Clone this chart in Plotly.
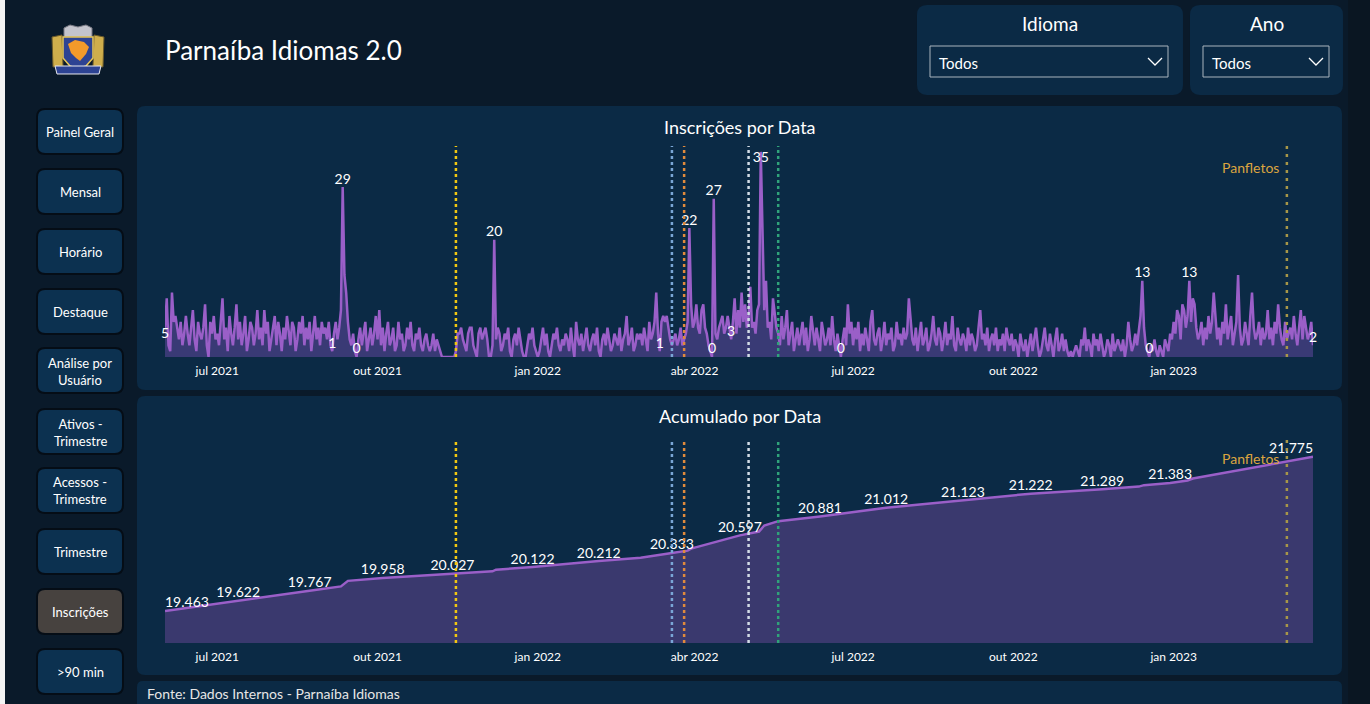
import plotly.graph_objects as go
import pandas as pd

W, H = 1370, 704

# ---------------- data ----------------
start_date = "2021-06-01"
jun21 = [5, 10, 2, 1, 11, 6, 7, 5, 3, 6, 2, 4, 7, 4, 2, 5, 8, 3, 1, 6, 4, 3, 5, 9, 2, 0, 6, 4, 7, 3]
jul21 = [4, 2, 6, 10, 3, 5, 1, 7, 4, 2, 5, 9, 3, 6, 2, 4, 7, 1, 3, 6, 5, 2, 4, 8, 3, 5, 2, 8, 4, 6, 1]
aug21 = [3, 5, 7, 2, 6, 4, 1, 5, 3, 7, 4, 2, 6, 5, 1, 3, 6, 4, 7, 2, 5, 3, 6, 1, 4, 7, 3, 5, 2, 6, 4]
sep21 = [5, 3, 6, 2, 1, 4, 6, 3, 5, 8, 29, 14, 11, 6, 3, 2, 4, 1, 0, 3, 5, 2, 4, 6, 1, 3, 5, 2, 4, 7]
oct21 = [3, 8, 2, 5, 1, 4, 6, 2, 3, 5, 1, 2, 6, 3, 4, 1, 2, 5, 3, 6, 2, 1, 4, 3, 5, 2, 1, 3, 4, 2, 1]
nov21 = [2, 4, 1, 3, 2, 1, 0, 0, 0, 0, 0, 0, 0, 0, 1, 4, 4, 5, 3, 2, 1, 4, 5, 5, 2, 1, 0, 4, 5, 3]
dec21 = [4, 5, 3, 0, 0, 2, 20, 3, 5, 4, 1, 2, 4, 3, 5, 1, 0, 3, 4, 2, 5, 3, 1, 0, 0, 2, 4, 3, 5, 2, 1]
jan22 = [0, 1, 3, 5, 2, 4, 1, 0, 2, 4, 3, 5, 2, 1, 3, 2, 4, 3, 1, 5, 2, 0, 6, 3, 2, 4, 1, 3, 5, 2, 1]
feb22 = [3, 4, 2, 5, 1, 0, 3, 4, 2, 5, 3, 1, 2, 4, 3, 2, 5, 1, 3, 4, 7, 2, 3, 5, 1, 2, 4, 3]
mar22 = [4, 2, 5, 3, 1, 6, 3, 4, 6, 11, 4, 1, 6, 7, 6, 7, 5, 3, 2, 3, 4, 2, 3, 5, 2, 3, 4, 6, 22, 9, 5]
apr22 = [6, 9, 5, 4, 8, 9, 5, 4, 2, 1, 0, 27, 4, 3, 5, 6, 7, 4, 5, 7, 5, 3, 6, 10, 4, 8, 5, 11, 6, 9]
may22 = [5, 7, 12, 5, 6, 4, 8, 9, 35, 22, 8, 13, 5, 6, 3, 10, 7, 5, 4, 2, 7, 3, 5, 8, 2, 4, 6, 1, 3, 5, 2]
jun22 = [4, 6, 2, 5, 1, 3, 7, 4, 2, 5, 3, 1, 6, 4, 2, 3, 5, 2, 7, 3, 1, 4, 2, 0, 3, 5, 2, 9, 4, 6]
jul22 = [2, 5, 3, 6, 1, 4, 2, 5, 3, 1, 6, 8, 3, 2, 4, 5, 1, 3, 6, 2, 4, 3, 5, 1, 2, 6, 3, 4, 2, 5, 3]
aug22 = [4, 10, 7, 3, 2, 5, 1, 4, 6, 2, 3, 5, 1, 2, 4, 7, 3, 2, 5, 4, 1, 3, 6, 2, 4, 3, 7, 2, 1, 5, 3]
sep22 = [2, 4, 3, 1, 5, 2, 4, 3, 1, 2, 5, 8, 3, 4, 2, 5, 1, 3, 4, 2, 5, 1, 3, 2, 4, 1, 5, 3, 2, 4]
oct22 = [1, 3, 2, 0, 4, 2, 1, 3, 0, 2, 4, 1, 3, 5, 2, 0, 1, 3, 5, 2, 1, 4, 2, 0, 3, 5, 1, 2, 4, 1, 3]
nov22 = [1, 0, 1, 0, 1, 2, 1, 0, 3, 2, 5, 1, 3, 2, 0, 4, 2, 3, 1, 4, 2, 0, 1, 3, 2, 0, 4, 1, 2, 3]
dec22 = [2, 1, 3, 0, 2, 6, 3, 1, 2, 4, 2, 5, 7, 13, 5, 2, 1, 0, 2, 1, 3, 1, 0, 2, 1, 0, 3, 2, 1, 4, 3]
jan23 = [6, 4, 8, 7, 3, 9, 8, 5, 7, 13, 6, 10, 9, 5, 3, 4, 6, 2, 5, 3, 7, 4, 6, 11, 7, 3, 5, 2, 6, 4, 9]
feb23 = [3, 5, 7, 2, 4, 6, 14, 5, 2, 3, 6, 4, 2, 7, 11, 5, 3, 4, 6, 2, 5, 3, 4, 8, 3, 5, 2, 6]
mar23 = [4, 9, 5, 3, 2, 6, 3, 4, 5, 3, 7, 4, 2, 5, 8, 3, 7, 5, 3, 4, 6, 2]

daily_counts = (jun21 + jul21 + aug21 + sep21 + oct21 + nov21 + dec21 + jan22 + feb22 + mar22
                + apr22 + may22 + jun22 + jul22 + aug22 + sep22 + oct22 + nov22 + dec22
                + jan23 + feb23 + mar23)
daily_dates = pd.date_range(start_date, periods=len(daily_counts), freq="D")

daily_label_dates = ["2021-06-01", "2021-09-05", "2021-09-11", "2021-09-19", "2021-12-07",
                     "2022-03-12", "2022-03-29", "2022-04-11", "2022-04-12", "2022-04-22",
                     "2022-05-09", "2022-06-24", "2022-12-14", "2022-12-18", "2023-01-10",
                     "2023-03-22"]
daily_label_pos = ["bottom center", "top center", "top center", "top center", "top center",
                   "top center", "top center", "top center", "top center", "top center",
                   "bottom center", "top center", "top center", "top center", "top center",
                   "top center"]

cum_dates = ["2021-06-01", "2021-07-13", "2021-08-23", "2021-09-10", "2021-09-14",
             "2021-10-04", "2021-11-13", "2021-12-06", "2021-12-08", "2021-12-29",
             "2022-02-05", "2022-03-01", "2022-03-19", "2022-03-28", "2022-03-30",
             "2022-04-27", "2022-05-08", "2022-05-11", "2022-05-19", "2022-06-12",
             "2022-07-20", "2022-09-02", "2022-10-11", "2022-11-21", "2022-12-12",
             "2022-12-15", "2022-12-30", "2023-01-09", "2023-01-12", "2023-03-22"]
cum_values = [19463, 19622, 19767, 19832, 19915,
              19958, 20027, 20058, 20082, 20122,
              20212, 20262, 20333, 20368, 20398,
              20597, 20655, 20745, 20810, 20881,
              21012, 21123, 21222, 21289, 21328,
              21350, 21383, 21420, 21450, 21775]
cum_label_dates = ["2021-06-01", "2021-07-13", "2021-08-23", "2021-10-04", "2021-11-13",
                   "2021-12-29", "2022-02-05", "2022-03-19", "2022-04-27", "2022-06-12",
                   "2022-07-20", "2022-09-02", "2022-10-11", "2022-11-21", "2022-12-30",
                   "2023-03-22"]

event_dates = ["2021-11-15", "2022-03-19", "2022-03-26", "2022-05-02", "2022-05-19"]
event_colors = ["#f2c811", "#7aa6d6", "#e08a3c", "#d3dce6", "#2fa37a"]
panfleto_date = "2023-03-07"
panfleto_label = "Panfletos"

tick_dates = ["2021-07-01", "2021-10-01", "2022-01-01", "2022-04-01",
              "2022-07-01", "2022-10-01", "2023-01-01"]
tick_text = ["jul 2021", "out 2021", "jan 2022", "abr 2022",
             "jul 2022", "out 2022", "jan 2023"]

menu_items = ["Painel Geral", "Mensal", "Horário", "Destaque", "Análise por<br>Usuário",
              "Ativos -<br>Trimestre", "Acessos -<br>Trimestre", "Trimestre", "Inscrições",
              ">90 min"]
selected_item = "Inscrições"

# ---------------- helpers ----------------
FONT = "Lato"
BG = "#0a1a2a"
PANEL = "#0b2a45"
LINE = "#9a5fc8"


def PX(x):
    return x / W


def PY(y):
    return 1 - y / H


def rr_path(x0, y0, x1, y1, r):
    pts = [("M", x0 + r, y0), ("L", x1 - r, y0), ("Q", x1, y0, x1, y0 + r),
           ("L", x1, y1 - r), ("Q", x1, y1, x1 - r, y1), ("L", x0 + r, y1),
           ("Q", x0, y1, x0, y1 - r), ("L", x0, y0 + r), ("Q", x0, y0, x0 + r, y0)]
    s = ""
    for p in pts:
        cmd = p[0]
        coords = p[1:]
        parts = []
        for i in range(0, len(coords), 2):
            parts.append(f"{PX(coords[i]):.5f},{PY(coords[i+1]):.5f}")
        s += cmd + " " + " ".join(parts) + " "
    return s + "Z"


def poly_path(points):
    s = "M " + " L ".join(f"{PX(x):.5f},{PY(y):.5f}" for x, y in points) + " Z"
    return s


shapes = []
annotations = []


def panel(x0, y0, x1, y1, r, fill, line_color=None, lw=0, layer="below"):
    shapes.append(dict(type="path", path=rr_path(x0, y0, x1, y1, r), xref="paper", yref="paper",
                       fillcolor=fill, line=dict(color=line_color or fill, width=lw), layer=layer))


def text(x, y, s, size=13, color="white", xanchor="center", weight="normal"):
    annotations.append(dict(x=PX(x), y=PY(y), xref="paper", yref="paper", text=s,
                            showarrow=False, xanchor=xanchor, yanchor="middle",
                            font=dict(family=FONT, size=size, color=color, weight=weight)))


# ---------------- page frame ----------------
shapes.append(dict(type="rect", x0=0, x1=PX(5), y0=0, y1=1, xref="paper", yref="paper",
                   fillcolor="#f4f4f4", line=dict(width=0), layer="below"))
shapes.append(dict(type="rect", x0=PX(1348), x1=1, y0=0, y1=1, xref="paper", yref="paper",
                   fillcolor="#0a1622", line=dict(width=0), layer="below"))

# logo (simplified coat of arms)
shapes.append(dict(type="path", path=poly_path([(52, 37), (62, 35), (63, 66), (53, 67)]),
                   xref="paper", yref="paper", fillcolor="#cfae4c", line=dict(color="#6b5a2a", width=1), layer="below"))
shapes.append(dict(type="path", path=poly_path([(94, 35), (104, 37), (103, 67), (93, 66)]),
                   xref="paper", yref="paper", fillcolor="#cfae4c", line=dict(color="#6b5a2a", width=1), layer="below"))
shapes.append(dict(type="path", path=poly_path([(64, 28), (70, 25), (78, 27), (86, 25), (92, 28), (92, 37), (64, 37)]),
                   xref="paper", yref="paper", fillcolor="#c4c4cc", line=dict(color="#7c7c86", width=1), layer="below"))
shapes.append(dict(type="path", path=poly_path([(63, 37), (93, 37), (93, 58), (86, 66), (78, 69), (70, 66), (63, 58)]),
                   xref="paper", yref="paper", fillcolor="#2d4393", line=dict(color="#e6c65a", width=1.5), layer="below"))
shapes.append(dict(type="path", path=poly_path([(68, 44), (75, 40), (84, 42), (89, 47), (86, 54), (80, 61), (76, 58), (71, 53)]),
                   xref="paper", yref="paper", fillcolor="#f39a2a", line=dict(width=0), layer="below"))
shapes.append(dict(type="path", path=poly_path([(55, 66), (101, 66), (99, 74), (57, 74)]),
                   xref="paper", yref="paper", fillcolor="#2d4393", line=dict(color="#e9e9ef", width=1), layer="below"))

text(163, 50, "Parnaíba Idiomas 2.0", size=26, xanchor="left")

# filter panels
panel(917, 5, 1183, 95, 10, PANEL)
panel(1190, 5, 1343, 95, 10, PANEL)
text(1050, 23, "Idioma", size=19)
text(1267, 23, "Ano", size=19)
shapes.append(dict(type="rect", x0=PX(930), x1=PX(1168), y0=PY(77), y1=PY(46), xref="paper", yref="paper",
                   fillcolor=PANEL, line=dict(color="#aab4be", width=1), layer="below"))
shapes.append(dict(type="rect", x0=PX(1203), x1=PX(1329), y0=PY(77), y1=PY(46), xref="paper", yref="paper",
                   fillcolor=PANEL, line=dict(color="#aab4be", width=1), layer="below"))
text(937, 63, "Todos", size=15, xanchor="left")
text(1210, 63, "Todos", size=15, xanchor="left")
for cx in (1155, 1316):
    shapes.append(dict(type="path",
                       path=f"M {PX(cx-7):.5f},{PY(58):.5f} L {PX(cx):.5f},{PY(65):.5f} L {PX(cx+7):.5f},{PY(58):.5f}",
                       xref="paper", yref="paper", line=dict(color="white", width=1.3), layer="below"))

# sidebar menu
menu_centers = [132, 192, 252, 312, 371, 432, 491, 552, 612, 672]
for item, cy in zip(menu_items, menu_centers):
    fill = "#47423f" if item == selected_item else "#0c3150"
    panel(37, cy - 23, 123, cy + 22, 8, fill, "#050d16", 2)
    text(80, cy, item, size=13)

# chart panels
panel(137, 106, 1342, 390, 8, PANEL)
panel(137, 396, 1342, 675, 8, PANEL)
panel(137, 681, 1342, 712, 6, PANEL)
text(145, 693, "Fonte: Dados Internos - Parnaíba Idiomas", size=14, color="#e6e6e6", xanchor="left")

text(740, 127, "Inscrições por Data", size=18)
text(740, 416, "Acumulado por Data", size=18)

# ---------------- traces ----------------
fig = go.Figure()

fig.add_trace(go.Scatter(x=daily_dates, y=daily_counts, mode="lines", xaxis="x", yaxis="y",
                         line=dict(color=LINE, width=2.5), fill="tozeroy",
                         fillcolor="rgba(88,70,150,0.6)", hoverinfo="skip", showlegend=False))

daily_map = dict(zip(daily_dates.strftime("%Y-%m-%d"), daily_counts))
lab_y = [daily_map[d] for d in daily_label_dates]
fig.add_trace(go.Scatter(x=daily_label_dates, y=lab_y, mode="text", xaxis="x", yaxis="y",
                         text=[str(v) for v in lab_y], textposition=daily_label_pos,
                         textfont=dict(family=FONT, size=14, color="white"),
                         cliponaxis=False, hoverinfo="skip", showlegend=False))

fig.add_trace(go.Scatter(x=cum_dates, y=cum_values, mode="lines", xaxis="x2", yaxis="y2",
                         line=dict(color=LINE, width=2.5), fill="tozeroy",
                         fillcolor="#3a396e", hoverinfo="skip", showlegend=False))

cum_map = dict(zip(cum_dates, cum_values))
cum_lab_y = [cum_map[d] for d in cum_label_dates]
cum_pos = ["top right"] + ["top center"] * (len(cum_label_dates) - 2) + ["top left"]
fig.add_trace(go.Scatter(x=cum_label_dates, y=cum_lab_y, mode="text", xaxis="x2", yaxis="y2",
                         text=[f"{v:,}".replace(",", ".") for v in cum_lab_y], textposition=cum_pos,
                         textfont=dict(family=FONT, size=14, color="white"),
                         cliponaxis=False, hoverinfo="skip", showlegend=False))

# event lines
for xa, ya in (("x", "y"), ("x2", "y2")):
    for d, c in zip(event_dates, event_colors):
        shapes.append(dict(type="line", xref=xa, yref=f"{ya} domain", x0=d, x1=d, y0=0, y1=1,
                           line=dict(color=c, width=2.5, dash="dot"), layer="above"))
    shapes.append(dict(type="line", xref=xa, yref=f"{ya} domain", x0=panfleto_date, x1=panfleto_date,
                       y0=0, y1=1, line=dict(color="#a89748", width=2.5, dash="3px,5px"), layer="above"))

annotations.append(dict(x=panfleto_date, y=0.9, xref="x", yref="y domain", text=panfleto_label,
                        showarrow=False, xanchor="right", xshift=-6, yanchor="middle",
                        font=dict(family=FONT, size=14, color="#dca540")))
annotations.append(dict(x=panfleto_date, y=0.91, xref="x2", yref="y2 domain", text=panfleto_label,
                        showarrow=False, xanchor="right", xshift=-6, yanchor="middle",
                        font=dict(family=FONT, size=14, color="#dca540")))

x_dom = [PX(165), PX(1313)]
x_range = [daily_dates[0], daily_dates[-1]]
xaxis_common = dict(domain=x_dom, range=x_range, tickvals=tick_dates, ticktext=tick_text,
                    showgrid=False, zeroline=False, showline=False, ticks="",
                    ticklabelstandoff=5,
                    tickfont=dict(family=FONT, size=12, color="white"), fixedrange=True)

y_top = 36
fig.update_layout(
    width=W, height=H, margin=dict(l=0, r=0, t=0, b=0),
    paper_bgcolor=BG, plot_bgcolor="rgba(0,0,0,0)",
    xaxis=dict(anchor="y", **xaxis_common),
    yaxis=dict(domain=[PY(357), PY(357 - y_top * 5.86)], range=[0, y_top], visible=False, fixedrange=True),
    xaxis2=dict(anchor="y2", **xaxis_common),
    yaxis2=dict(domain=[PY(643), PY(440)], range=[18983, 22027], visible=False, fixedrange=True),
    shapes=shapes, annotations=annotations, showlegend=False,
    font=dict(family=FONT, color="white"),
)

fig.write_html("out.html", config={"displayModeBar": False},
               post_script="document.body.style.margin='0';document.body.style.overflow='hidden';")
